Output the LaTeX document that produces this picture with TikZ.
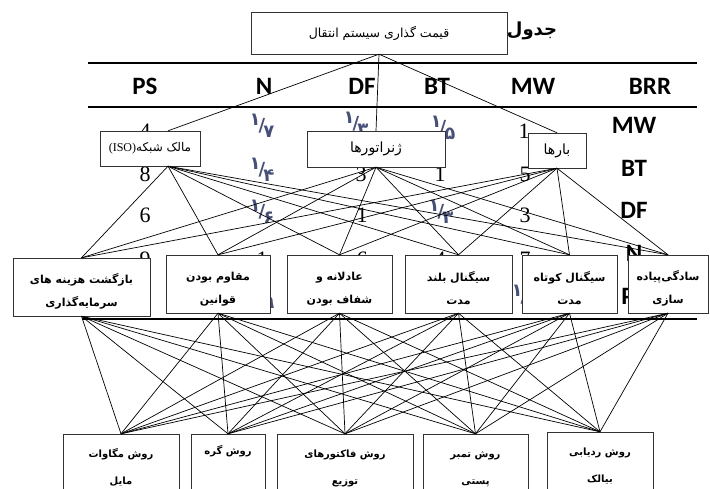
\documentclass[tikz,border=0pt]{standalone}
\usepackage{fontspec}
\setmainfont{Liberation Serif}
\newfontfamily\arabicfont[Script=Arabic]{DejaVu Sans}
\newfontfamily\hdrfont{Carlito}
\TeXXeTstate=1
\usetikzlibrary{positioning}
\definecolor{fracink}{RGB}{70,80,120}
\newcommand{\rtl}[1]{\beginR #1\endR}
\newcommand{\frc}[2]{\raisebox{6pt}{#1}\kern-2pt/\kern-2pt\raisebox{-6pt}{#2}}
\tikzstyle{tbox} = [draw=black!80, fill=white, inner sep=0pt, align=center, font=\arabicfont\fontsize{14}{16}\selectfont]
\tikzstyle{cbox} = [tbox, minimum height=58pt, font=\arabicfont\bfseries\fontsize{11}{23}\selectfont]
\tikzstyle{abox} = [tbox, minimum height=62pt, font=\arabicfont\bfseries\fontsize{10}{27}\selectfont]
\tikzstyle{line} = [draw, line width=0.7pt]
\tikzstyle{rule} = [draw, line width=2.4pt]
\tikzstyle{hdr} = [inner sep=0pt, font=\hdrfont\bfseries\fontsize{25}{25}\selectfont]
\tikzstyle{num} = [inner sep=0pt, font=\fontsize{22}{22}\selectfont]
\tikzstyle{frac} = [inner sep=0pt, text=fracink, font=\arabicfont\bfseries\fontsize{18}{18}\selectfont]
\newcommand{\lowtop}[1][19pt]{\rule{0pt}{#1}}

\begin{document}
\begin{tikzpicture}[x=1pt, y=-1pt]
	\clip (0,0) rectangle (710,488);

	% table behind the diagram
	\node [inner sep=0pt, font=\arabicfont\bfseries\fontsize{18}{18}\selectfont] (title) at (532,31) {\rtl{جدول}};
	\draw [rule] (88,63) -- (697,63);
	\draw [rule] (88,107) -- (697,107);
	\draw [rule] (82,319) -- (697,319);
	\foreach \name/\x in {PS/145, N/264, DF/362, BT/437, MW/533, BRR/650}
		\node [hdr] (h\name) at (\x,86) {\name};
	\foreach \name/\y in {MW/125, BT/168, DF/210, N/253, PS/296}
		\node [hdr] (r\name) at (634,\y) {\name};
	\node [num] (n11) at (145,131) {4};
	\node [num] (n21) at (145,174) {8};
	\node [num] (n31) at (145,215) {6};
	\node [num] (n41) at (145,259) {9};
	\node [num] (n15) at (524,131) {1};
	\node [num] (n25) at (525,174) {5};
	\node [num] (n35) at (525,215) {3};
	\node [num] (n45) at (525,259) {7};
	\node [num] (n23) at (361,174) {3};
	\node [num] (n24) at (440,174) {1};
	\node [num] (n33) at (362,215) {1};
	\node [num] (n42) at (262,259) {1};
	\node [num] (n43) at (362,259) {6};
	\node [num] (n44) at (440,259) {4};
	\node [frac] (f12) at (262,126) {\frc{۱}{۷}};
	\node [frac] (f13) at (356,124) {\frc{۱}{۳}};
	\node [frac] (f14) at (443,128) {\frc{۱}{۵}};
	\node [frac] (f22) at (262,170) {\frc{۱}{۴}};
	\node [frac] (f32) at (262,212) {\frc{۱}{۶}};
	\node [frac] (f34) at (441,212) {\frc{۱}{۳}};
	\node [frac] (f52) at (262,297) {\frc{۱}{۹}};
	\node [frac] (f55) at (524,297) {\frc{۱}{۷}};

	% goal and actors
	\node [tbox, minimum width=256pt, minimum height=42pt, font=\arabicfont\fontsize{12.5}{14}\selectfont] (price) at (379,33) {\rtl{قیمت گذاری سیستم انتقال}};
	\node [tbox, minimum width=100pt, minimum height=35pt, font=\arabicfont\fontsize{12}{14}\selectfont] (iso) at (150,148.5) {\rtl{مالک شبکه\beginL{\rmfamily(ISO)}\endL}};
	\node [tbox, minimum width=138pt, minimum height=36pt] (gen) at (376,149) {\rtl{ژنراتورها}};
	\node [tbox, minimum width=58pt, minimum height=35pt] (load) at (557,150.5) {\rtl{بارها}};

	% criteria
	\node [cbox, minimum width=137pt] (cost) at (81.5,287) {\lowtop\rtl{بازگشت هزینه های}\\\rtl{سرمایه‌گذاری}};
	\node [cbox, minimum width=104pt] (law) at (218,284) {\lowtop\rtl{مقاوم بودن}\\\rtl{قوانین}};
	\node [cbox, minimum width=105pt] (fair) at (339.5,284) {\lowtop\rtl{عادلانه و}\\\rtl{شفاف بودن}};
	\node [cbox, minimum width=107pt] (lsig) at (458.5,284) {\lowtop\rtl{سیگنال بلند}\\\rtl{مدت}};
	\node [cbox, minimum width=95pt] (ssig) at (569.5,284) {\lowtop\rtl{سیگنال کوتاه}\\\rtl{مدت}};
	\node [cbox, minimum width=80pt] (simple) at (668,284) {\lowtop\rtl{سادگی‌پیاده}\\\rtl{سازی}};

	% methods
	\node [abox, minimum width=116pt] (mwm) at (121,465) {\lowtop[14pt]\rtl{روش مگاوات}\\\rtl{مایل}};
	\node [abox, minimum width=74pt] (nodem) at (228,465) {\lowtop[14pt]\rtl{روش گره}\\\strut};
	\node [abox, minimum width=136pt] (distm) at (345,465) {\lowtop[14pt]\rtl{روش فاکتورهای}\\\rtl{توزیع}};
	\node [abox, minimum width=105pt] (stamp) at (475.5,465) {\lowtop[14pt]\rtl{روش تمبر}\\\rtl{پستی}};
	\node [abox, minimum width=106pt] (trace) at (600,463) {\lowtop[14pt]\rtl{روش ردیابی}\\\rtl{بیالک}};

	\path [line] (price.south) -- ([xshift=18pt]iso.north);
	\path [line] (price.south) -- (gen.north);
	\path [line] (price.south) -- (load.north);
	\foreach \c in {cost, law, fair, lsig, ssig, simple} {
		\path [line] ([xshift=18pt]iso.south) -- (\c.north);
		\path [line] (gen.south) -- (\c.north);
		\path [line] (load.south) -- (\c.north);
		\foreach \m in {mwm, nodem, distm, stamp, trace}
			\path [line] (\c.south) -- (\m.north);
	}
\end{tikzpicture}
\end{document}
